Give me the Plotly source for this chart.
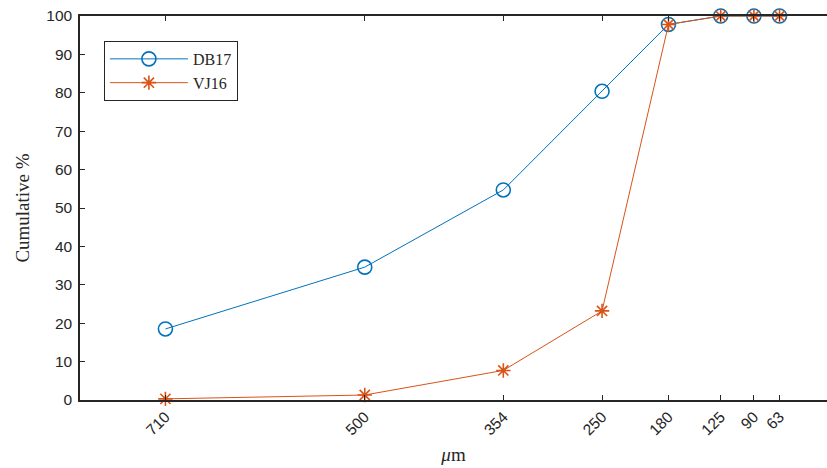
import plotly.graph_objects as go

# sieve sizes (µm) and cumulative percentages
sizes = [710, 500, 354, 250, 180, 125, 90, 63]
size_labels = ["710", "500", "354", "250", "180", "125", "90", "63"]
db17 = [18.5, 34.6, 54.7, 80.4, 97.8, 100, 100, 100]
vj16 = [0.3, 1.3, 7.7, 23.2, 97.8, 100, 100, 100]

blue = "#0072BD"
orange = "#D95319"
axis_col = "#262626"
serif = "Liberation Serif, Times New Roman, serif"

fig = go.Figure()
fig.add_trace(go.Scatter(
    x=sizes, y=db17, name="DB17", mode="lines+markers",
    line=dict(color=blue, width=1),
    marker=dict(symbol="circle-open", size=14, color=blue, line=dict(width=1.6)),
    cliponaxis=False,
))
fig.add_trace(go.Scatter(
    x=sizes, y=vj16, name="VJ16", mode="lines+markers",
    line=dict(color=orange, width=1),
    marker=dict(symbol="asterisk-open", size=12, color=orange, line=dict(width=1.6, color=orange)),
    cliponaxis=False,
))

fig.update_layout(
    width=827, height=468,
    margin=dict(l=80, r=0, t=16, b=68),
    paper_bgcolor="white", plot_bgcolor="white",
    font=dict(family="Liberation Sans, Arial, sans-serif", size=15, color=axis_col),
    showlegend=True,
    legend=dict(
        x=0.032, y=0.935, xanchor="left", yanchor="top",
        bordercolor=axis_col, borderwidth=1, bgcolor="white",
        font=dict(family=serif, size=16, color=axis_col),
        tracegroupgap=0, itemwidth=78,
    ),
    xaxis=dict(
        range=[800, 13],
        tickmode="array", tickvals=sizes, ticktext=size_labels,
        tickangle=-45, ticks="inside", ticklen=5, tickwidth=1, tickcolor=axis_col,
        showline=True, linecolor=axis_col, linewidth=1.5, mirror="ticks",
        showgrid=False, zeroline=False,
        tickfont=dict(size=15.5),
        title=dict(text="<i>μ</i>m", font=dict(family=serif, size=19), standoff=10),
    ),
    yaxis=dict(
        range=[0, 100], tickvals=list(range(0, 101, 10)),
        ticks="inside", ticklen=5, tickwidth=1, tickcolor=axis_col,
        showline=True, linecolor=axis_col, linewidth=1.5, mirror=False,
        showgrid=False, zeroline=False,
        tickfont=dict(size=15.5), ticklabelstandoff=3,
        title=dict(text="Cumulative %", font=dict(family=serif, size=19), standoff=12),
    ),
)

fig.write_html("out.html")
